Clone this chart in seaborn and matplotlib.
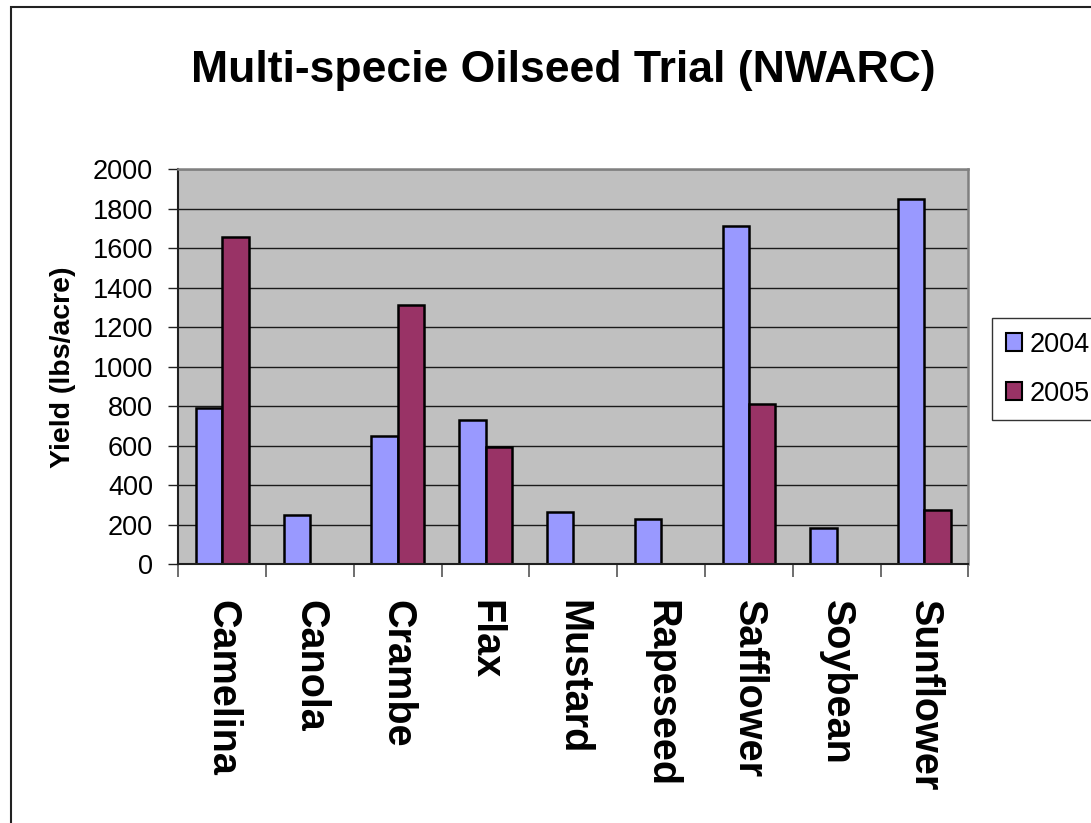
import numpy as np
import pandas as pd
import matplotlib
matplotlib.use("Agg")
import matplotlib.pyplot as plt
from matplotlib.patches import Rectangle
from matplotlib.ticker import MultipleLocator, FixedLocator
import seaborn as sns

# ---- data ----
categories = ["Camelina", "Canola", "Crambe", "Flax", "Mustard",
              "Rapeseed", "Safflower", "Soybean", "Sunflower"]
years = ["2004", "2005"]
yield_2004 = [790, 250, 650, 730, 265, 230, 1715, 185, 1850]
yield_2005 = [1655, np.nan, 1315, 595, np.nan, np.nan, 810, np.nan, 275]
colors = ["#9999FF", "#993366"]

title = "Multi-specie Oilseed Trial (NWARC)"
ylabel = "Yield (lbs/acre)"

df = pd.DataFrame({
    "Crop": categories * 2,
    "Yield": yield_2004 + yield_2005,
    "Year": [years[0]] * len(categories) + [years[1]] * len(categories),
})

sns.set_theme(style="white")
plt.rcParams["font.family"] = ["Liberation Sans", "DejaVu Sans"]
plt.rcParams["text.color"] = "black"
plt.rcParams["axes.labelcolor"] = "black"
plt.rcParams["xtick.color"] = "black"
plt.rcParams["ytick.color"] = "black"

W, H = 1091, 823
fig = plt.figure(figsize=(W / 100, H / 100), dpi=100)
fig.patch.set_facecolor("white")

left, right, top, bottom = 178.3, 968.3, 169.3, 564.3
ax = fig.add_axes([left / W, 1 - bottom / H, (right - left) / W, (bottom - top) / H])

sns.barplot(data=df, x="Crop", y="Yield", hue="Year", order=categories,
            hue_order=years, palette=colors, width=0.6, errorbar=None,
            edgecolor="black", linewidth=1.8, saturation=1, ax=ax)

ax.set_facecolor("#C0C0C0")
ax.set_ylim(0, 2000)
ax.set_xlim(-0.5, len(categories) - 0.5)
ax.yaxis.set_major_locator(MultipleLocator(200))
ax.set_axisbelow(True)
ax.grid(axis="y", color="#1a1a1a", linewidth=1.0)
ax.grid(axis="x", visible=False)

# spines
for s in ["top", "right"]:
    ax.spines[s].set_color("#808080")
    ax.spines[s].set_linewidth(1.8)
for s in ["left", "bottom"]:
    ax.spines[s].set_color("#202020")
    ax.spines[s].set_linewidth(1.5)

# y ticks
ax.tick_params(axis="y", which="major", left=True, length=7.2, width=1.0,
               color="#202020", labelcolor="black", labelsize=19.5, pad=11)
# x ticks: labels at centres, tick marks at boundaries
ax.set_xticks(range(len(categories)))
ax.set_xticklabels(categories, rotation=270, fontsize=28.5, fontweight="bold",
                   ha="center", va="top", color="black")
ax.tick_params(axis="x", which="major", bottom=True, length=0, pad=25.5)
ax.xaxis.set_minor_locator(FixedLocator(np.arange(-0.5, len(categories), 1.0)))
ax.tick_params(axis="x", which="minor", bottom=True, length=9.5, width=1.2,
               color="#555555")

ax.set_xlabel("")
ax.set_ylabel(ylabel, fontsize=20.5, fontweight="bold", labelpad=12, color="black")

# legend
handles, labels = ax.get_legend_handles_labels()
if ax.legend_ is not None:
    ax.legend_.remove()
leg = fig.legend(handles, labels, loc="upper left",
                 bbox_to_anchor=(992 / W, 1 - 318 / H),
                 fontsize=19.5, frameon=True, fancybox=False, shadow=False,
                 handlelength=0.62, handleheight=0.62, handletextpad=0.28,
                 borderpad=0.5, labelspacing=0.85, borderaxespad=0,
                 labelcolor="black")
leg.get_frame().set_edgecolor("black")
leg.get_frame().set_linewidth(1.0)
for p in leg.get_patches():
    p.set_edgecolor("black")
    p.set_linewidth(1.5)

# title
fig.text(563 / W, 1 - 82 / H, title, ha="center", va="baseline",
         fontsize=32, fontweight="bold", color="black")

# chart-area border (partially cropped in reference)
fig.patches.append(Rectangle((10.5 / W, -0.1), 1.2, (1 - 6.7 / H) + 0.1,
                             transform=fig.transFigure, fill=False,
                             edgecolor="#222222", linewidth=1.5))

fig.savefig("out.png", dpi=100)
